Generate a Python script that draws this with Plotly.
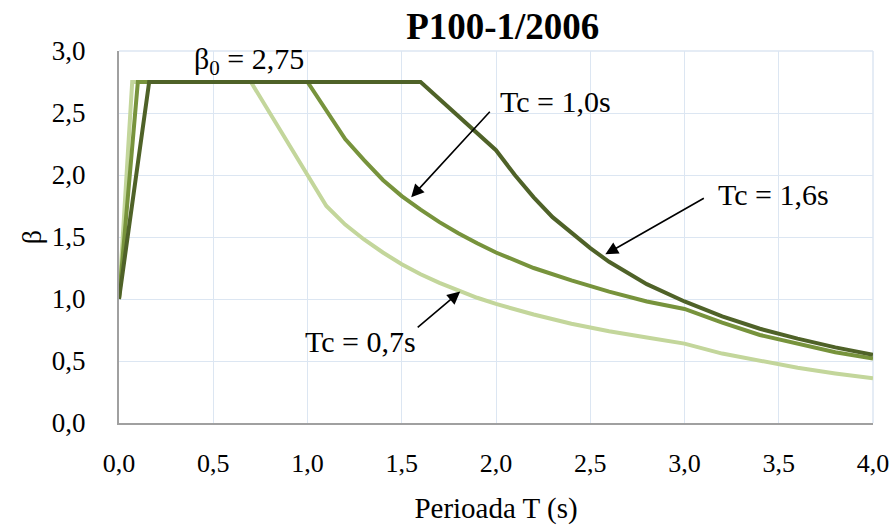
import plotly.graph_objects as go

# Normalised design spectra beta(T), P100-1/2006, for three corner periods Tc
T_07 = [0, 0.07, 0.7, 1.1, 1.2, 1.3, 1.4, 1.5, 1.6, 1.7, 1.8, 1.9, 2.0, 2.2, 2.4,
        2.6, 2.8, 3.0, 3.2, 3.4, 3.6, 3.8, 4.0]
B_07 = [1.0, 2.75, 2.75, 1.75, 1.60, 1.48, 1.375, 1.28, 1.20, 1.13, 1.07, 1.01, 0.96,
        0.875, 0.80, 0.74, 0.69, 0.64, 0.56, 0.50, 0.445, 0.40, 0.36]

T_10 = [0, 0.1, 1.0, 1.2, 1.3, 1.4, 1.5, 1.6, 1.7, 1.8, 1.9, 2.0, 2.2, 2.4, 2.6,
        2.8, 3.0, 3.2, 3.4, 3.6, 3.8, 4.0]
B_10 = [1.0, 2.75, 2.75, 2.29, 2.12, 1.96, 1.83, 1.72, 1.62, 1.53, 1.45, 1.375, 1.25,
        1.15, 1.06, 0.98, 0.92, 0.81, 0.71, 0.64, 0.57, 0.52]

T_16 = [0, 0.16, 1.6, 2.0, 2.1, 2.2, 2.3, 2.4, 2.5, 2.6, 2.8, 3.0, 3.2, 3.4, 3.6,
        3.8, 4.0]
B_16 = [1.0, 2.75, 2.75, 2.20, 2.00, 1.82, 1.66, 1.53, 1.41, 1.30, 1.12, 0.98, 0.86,
        0.76, 0.68, 0.61, 0.55]

X_TICKS = [0, 0.5, 1.0, 1.5, 2.0, 2.5, 3.0, 3.5, 4.0]
Y_TICKS = [0, 0.5, 1.0, 1.5, 2.0, 2.5, 3.0]

FONT = "Liberation Serif, Times New Roman, serif"
C_LIGHT = "#c3d69b"
C_MID = "#77933c"
C_DARK = "#4f6228"

fig = go.Figure()
for t, b, c, name in [(T_07, B_07, C_LIGHT, "Tc = 0,7s"),
                      (T_10, B_10, C_MID, "Tc = 1,0s"),
                      (T_16, B_16, C_DARK, "Tc = 1,6s")]:
    fig.add_trace(go.Scatter(x=t, y=b, mode="lines", name=name,
                             line=dict(color=c, width=4)))

# Arrow pointers (tip on the curve, tail offset in pixels)
arrows = [
    (1.55, 1.82, 80, -87),    # Tc = 1,0s
    (2.58, 1.36, 100, -57),   # Tc = 1,6s
    (1.81, 1.06, -44, 37),    # Tc = 0,7s
]
for x, y, ax, ay in arrows:
    fig.add_annotation(x=x, y=y, ax=ax, ay=ay, text="", showarrow=True,
                       arrowhead=2, arrowsize=1.6, arrowwidth=1.6,
                       arrowcolor="black")

labels = [
    (2.315, 2.59, "Tc = 1,0s"),
    (3.47, 1.84, "Tc = 1,6s"),
    (1.283, 0.66, "Tc = 0,7s"),
    (0.69, 2.92, "β<sub>0</sub> = 2,75"),
]
for x, y, txt in labels:
    fig.add_annotation(x=x, y=y, text=txt, showarrow=False,
                       font=dict(family=FONT, size=30, color="black"))

fig.update_layout(
    template="none",
    width=896, height=528,
    margin=dict(l=119, r=23, t=51, b=105),
    paper_bgcolor="white", plot_bgcolor="white",
    showlegend=False,
    separators=",.",
    font=dict(family=FONT, size=26, color="black"),
    title=dict(text="<b>P100-1/2006</b>", x=0.509, xref="paper",
               xanchor="center", y=0.951, yref="container", yanchor="middle",
               font=dict(family=FONT, size=37, color="black")),
    xaxis=dict(
        range=[0, 4], tickvals=X_TICKS, tickformat=".1f", automargin=False,
        tickfont=dict(family=FONT, size=26, color="black"),
        showgrid=True, gridcolor="#dce6f2", gridwidth=1,
        showline=True, linecolor="#a0a0a0", linewidth=2,
        ticks="", zeroline=False, ticklabelstandoff=16,
        title=dict(text="Perioada T (s)", standoff=20,
                   font=dict(family=FONT, size=29, color="black")),
    ),
    yaxis=dict(
        range=[0, 3], tickvals=Y_TICKS, tickformat=".1f", automargin=False,
        tickfont=dict(family=FONT, size=27, color="black"),
        showgrid=True, gridcolor="#dce6f2", gridwidth=1,
        showline=True, linecolor="#a0a0a0", linewidth=2,
        ticks="", zeroline=False, ticklabelstandoff=26,
        title=dict(text="β", standoff=2,
                   font=dict(family=FONT, size=28, color="black")),
    ),
)
# top and right edges of the plot area drawn in the grid colour
fig.add_shape(type="line", xref="paper", yref="paper", x0=0, x1=1, y0=1, y1=1,
              line=dict(color="#dce6f2", width=1.5), layer="below")
fig.add_shape(type="line", xref="paper", yref="paper", x0=1, x1=1, y0=0, y1=1,
              line=dict(color="#dce6f2", width=1.5), layer="below")

fig.write_html("out.html")
